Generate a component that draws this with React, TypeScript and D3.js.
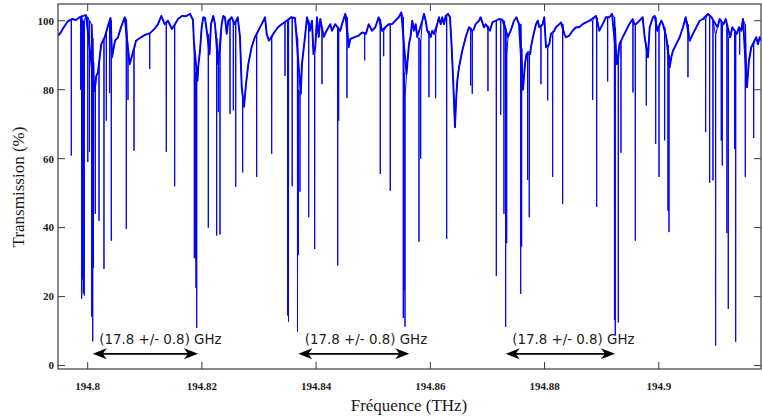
import React from "react";
import * as d3 from "d3";

// upper envelope of the transmission spectrum: frequency (THz) and transmission (%)
const envFreq = [
  194.7948, 194.79532, 194.79585, 194.79655, 194.79725, 194.79795, 194.79865, 194.7997,
  194.80119, 194.80151, 194.8018, 194.8021, 194.80238, 194.80298, 194.80355, 194.80399,
  194.80425, 194.80478, 194.80531, 194.80583, 194.80648, 194.80735, 194.80784, 194.80846,
  194.80916, 194.81003, 194.81091, 194.81178, 194.81231, 194.81289, 194.81348, 194.81406,
  194.81476, 194.81529, 194.81581, 194.81651, 194.81721, 194.81791, 194.81844, 194.81858,
  194.81923, 194.81937, 194.81966, 194.81996, 194.82024, 194.82054, 194.82084, 194.82133,
  194.82159, 194.82199, 194.82229, 194.82282, 194.82299, 194.82346, 194.82374, 194.82404,
  194.82434, 194.82462, 194.82521, 194.82571, 194.82627, 194.82667, 194.82697, 194.82737,
  194.82767, 194.82812, 194.82872, 194.82929, 194.82987, 194.83047, 194.83105, 194.83134,
  194.83175, 194.8325, 194.83332, 194.83397, 194.83484, 194.8356, 194.8363, 194.83731,
  194.83752, 194.8381, 194.8384, 194.83892, 194.83927, 194.83954, 194.83985, 194.84015,
  194.84045, 194.84073, 194.84132, 194.8419, 194.84248, 194.84278, 194.84335, 194.84423,
  194.84453, 194.84511, 194.8457, 194.84598, 194.84686, 194.84745, 194.84803, 194.84873,
  194.8492, 194.84978, 194.85036, 194.85095, 194.85153, 194.85211, 194.85271, 194.85328,
  194.85386, 194.85446, 194.85491, 194.85582, 194.85626, 194.85652, 194.85684, 194.85713,
  194.85743, 194.85771, 194.85859, 194.85889, 194.85918, 194.85946, 194.86006, 194.86034,
  194.86064, 194.86121, 194.86151, 194.86181, 194.86209, 194.86239, 194.86269, 194.86309,
  194.86344, 194.86374, 194.86402, 194.86431, 194.86454, 194.86472, 194.86502, 194.86559,
  194.86619, 194.86677, 194.86724, 194.86755, 194.86794, 194.86852, 194.86881, 194.86939,
  194.86969, 194.87044, 194.87085, 194.87144, 194.87202, 194.8726, 194.87359, 194.87407,
  194.87465, 194.87508, 194.87552, 194.87622, 194.87657, 194.87683, 194.87748, 194.87762,
  194.87797, 194.8785, 194.8788, 194.87908, 194.87967, 194.87995, 194.88025, 194.88083,
  194.88112, 194.8817, 194.882, 194.88258, 194.88288, 194.88345, 194.88375, 194.88433,
  194.88492, 194.8855, 194.88608, 194.88667, 194.88725, 194.88783, 194.88871, 194.889,
  194.88958, 194.89018, 194.89075, 194.89133, 194.89181, 194.89268, 194.89312, 194.89368,
  194.89426, 194.89483, 194.89543, 194.89575, 194.89601, 194.89659, 194.89718, 194.89753,
  194.89811, 194.89841, 194.89898, 194.89928, 194.89974, 194.90044, 194.90074, 194.90131,
  194.90191, 194.90219, 194.90249, 194.90306, 194.90366, 194.90424, 194.90471, 194.90541,
  194.90599, 194.90657, 194.90716, 194.90774, 194.90862, 194.90923, 194.91028, 194.91066,
  194.91136, 194.91171, 194.91252, 194.91287, 194.91369, 194.91404, 194.91445, 194.91474,
  194.91544, 194.91579, 194.9162, 194.91676, 194.91707, 194.91737, 194.91767, 194.91795,
];
const envTrans = [
  95.6, 96.7, 98.2, 99.9, 100.5, 100.2, 101.1, 101.6,
  79.6, 84, 85, 89.4, 93.2, 95.2, 98.5, 100.8,
  89.4, 94.2, 95.2, 98.1, 101, 87.4, 90.3, 94.2,
  95, 95.9, 96.4, 97.8, 99, 101.4, 99, 100,
  97.6, 99, 100.5, 101.4, 101.3, 102, 100.2, 94.4,
  82.6, 87, 91.3, 98, 101, 100.8, 97.1, 90.3,
  99, 101.4, 99, 87.4, 90.3, 99, 101.4, 101,
  96.2, 100, 101, 99, 101, 95.3, 80.8, 75,
  80.8, 87.4, 92.4, 95.3, 97.1, 99, 101, 96.2,
  94.2, 96.2, 98.1, 99, 100, 101, 100.8, 78.8,
  87.4, 96.1, 101, 97.1, 100, 90.3, 92.4, 101,
  95.3, 100.5, 95.3, 97.3, 99, 97.1, 99, 97.1,
  99, 102, 92.3, 94.7, 95.3, 95.7, 96.6, 96.2,
  99, 97.1, 98.1, 101, 97.1, 98.1, 99, 99,
  100, 101, 102.4, 84.5, 93.2, 95.3, 100, 97.1,
  99, 95.3, 100, 102, 100, 97.1, 95.3, 97.1,
  96.2, 99, 101, 99, 101, 99, 101.4, 102,
  101, 92.3, 81.7, 69.1, 77.8, 82.6, 86.5, 91.3,
  95.2, 98.1, 97.1, 97.3, 99, 100, 101, 98.1,
  99, 97.1, 99.5, 100, 100.5, 100.3, 95.3, 97.1,
  100, 101, 99, 80, 87.4, 90.3, 90.3, 92.3,
  95.3, 99, 100, 98.1, 99, 101, 92.3, 93.2,
  96.2, 97.1, 98.1, 99, 99.5, 96.2, 95.2, 95.7,
  97.1, 98.1, 98.1, 99, 99.5, 100, 101, 101.4,
  97.1, 99, 101, 101, 102, 87.4, 93.2, 95.2,
  97.1, 99, 100.5, 99, 99, 100, 101, 95.2,
  89.4, 98.1, 101, 101.4, 97.1, 100, 99, 95.2,
  86.5, 89.4, 91.3, 93.2, 95.2, 98.1, 101, 94.2,
  96.2, 98.1, 100, 100.5, 102, 101, 98.1, 100.5,
  99, 100.5, 95.2, 98.1, 96.2, 98.1, 97.1, 100.5,
  80.7, 88.4, 92.3, 94.2, 95.2, 93.2, 95.2, 94.2,
];

// narrow absorption lines: centre (THz), level on either side (%), minimum (%)
const dipFreq = [
  194.79713, 194.79877, 194.79895, 194.79909, 194.79923, 194.7994, 194.80002, 194.80032,
  194.8007, 194.80088, 194.80102, 194.80133, 194.80198, 194.80285, 194.80326, 194.80385,
  194.80413, 194.80676, 194.80706, 194.80811, 194.81086, 194.81376, 194.81523, 194.81867,
  194.81882, 194.81896, 194.81909, 194.82112, 194.82259, 194.82287, 194.82317, 194.82492,
  194.8255, 194.82592, 194.82714, 194.82959, 194.83222, 194.83455, 194.83502, 194.83516,
  194.83581, 194.83674, 194.83688, 194.83717, 194.8387, 194.83975, 194.84103, 194.84378,
  194.84395, 194.8454, 194.8485, 194.85123, 194.85183, 194.85298, 194.85526, 194.85542,
  194.85556, 194.85801, 194.85831, 194.85976, 194.86093, 194.86286, 194.86706, 194.86734,
  194.87009, 194.87155, 194.87232, 194.87289, 194.87319, 194.87337, 194.87582, 194.87599,
  194.87704, 194.87732, 194.87937, 194.88055, 194.88142, 194.88317, 194.88843, 194.88913,
  194.89105, 194.89224, 194.89238, 194.89291, 194.89338, 194.89548, 194.89589, 194.89781,
  194.89946, 194.90004, 194.90103, 194.90161, 194.90179, 194.90511, 194.90821, 194.90891,
  194.90949, 194.90996, 194.91094, 194.91112, 194.91194, 194.91217, 194.91329, 194.91347,
  194.91417, 194.91515, 194.91662,
];
const dipTop = [
  100.3, 101, 101, 100, 100, 100, 101, 100,
  99, 95, 88, 81, 87, 95, 96.5, 100,
  100, 100.5, 92, 91.5, 96.3, 99.5, 98.8, 90,
  85, 84, 83, 96, 95, 87.4, 90, 100,
  100, 99.5, 78, 95.8, 95, 99.5, 100, 100,
  101, 95, 80, 79, 100, 90, 98, 98,
  97, 101, 96.5, 100.5, 97, 99, 101, 85,
  78, 95, 94, 97, 96, 101.4, 98, 97,
  98.5, 100, 100, 100, 98, 90, 99, 92,
  91, 91, 98, 92, 96, 99, 100, 101,
  101, 101, 98, 88, 94, 100, 99, 93,
  101, 98, 98, 93, 90, 99, 100.5, 101.5,
  100, 96, 100, 99, 99, 95, 97, 96,
  98, 99, 93,
];
const dipMin = [
  60.9, 80, 19.3, 25, 21, 20.3, 59, 62,
  14.2, 7, 28.3, 44, 42, 28, 71, 79,
  36.2, 39.6, 77, 62.3, 86, 62, 52, 31.2,
  31, 22.5, 10.9, 40, 37.7, 73.5, 38, 73,
  74, 51.8, 56, 54.7, 61.4, 84, 14.5, 12.7,
  52, 9.9, 32, 50.4, 43, 33.8, 81.6, 29,
  71, 77.6, 88.5, 55.6, 89.7, 50.7, 13.8, 22,
  11.3, 35.9, 60, 77.8, 77.5, 36.7, 81.2, 78.8,
  79.6, 26, 72.7, 44, 11.2, 35.5, 20.8, 34.5,
  53.8, 43, 81.6, 76.9, 54.7, 46.9, 77, 46,
  82.4, 13.2, 8.9, 12.5, 61.7, 79.2, 36.2, 75.4,
  64.3, 54.7, 65.3, 44.9, 38.7, 83.6, 67.7, 53,
  53.7, 5.8, 65.2, 58, 38.4, 16.4, 62.8, 6.9,
  90.2, 54.7, 66,
];

const xTicks = [194.8, 194.82, 194.84, 194.86, 194.88, 194.9];
const xTickLabels = ["194.8", "194.82", "194.84", "194.86", "194.88", "194.9"];
const yTicks = [0, 20, 40, 60, 80, 100];

// spacing annotations (THz), drawn at a fixed transmission level
const spanStart = [194.80088, 194.83688, 194.87319];
const spanEnd = [194.81931, 194.85631, 194.89233];
const spanLabel = "(17.8 +/- 0.8) GHz";
const spanLevel = 3.4;

export default function App() {
  const width = 762;
  const height = 419;
  const left = 58;
  const right = 761;
  const top = 4;
  const bottom = 369;
  const tick = 7;

  const x = d3.scaleLinear().domain([194.7948, 194.9179]).range([left, right]);
  const y = d3.scaleLinear().domain([-1, 104.85]).range([bottom, top]);

  // merge envelope and absorption lines into one trace
  const half = 0.00003;
  const envPts: [number, number][] = envFreq.map((f, i) => [f, envTrans[i]]);
  const pts: [number, number][] = envPts.slice();
  dipFreq.forEach((f, i) => {
    pts.push([f - half, dipTop[i]], [f, dipMin[i]], [f + half, dipTop[i]]);
  });
  pts.sort((a, b) => a[0] - b[0]);

  const line = d3
    .line<[number, number]>()
    .x((d) => x(d[0]))
    .y((d) => y(d[1]));

  const serif = "Liberation Serif, Times New Roman, serif";
  const sans = "DejaVu Sans, Verdana, sans-serif";
  const axisColor = "#3a3a3a";
  const serifText = { fontFamily: serif };

  const arrowHead = (tipX: number, yy: number, dir: number) => {
    const l = 14;
    const h = 5.5;
    const n = 10;
    return `M${tipX},${yy} L${tipX + dir * l},${yy - h} L${tipX + dir * n},${yy} L${tipX + dir * l},${yy + h} Z`;
  };

  return (
    <svg
      width={width}
      height={height}
      style={{ position: "absolute", left: 0, top: 0, background: "#fff" }}
    >
      <defs>
        <clipPath id="plot-area">
          <rect x={left} y={top} width={right - left} height={bottom - top} />
        </clipPath>
      </defs>
      <rect x={0} y={0} width={width} height={height} fill="#fff" />
      <g clipPath="url(#plot-area)">
        {/* noisy baseline reads thicker than the narrow lines */}
        <path
          d={line(envPts) || ""}
          fill="none"
          stroke="#0000ff"
          strokeWidth={1.9}
          strokeLinejoin="round"
        />
        <path
          d={line(pts) || ""}
          fill="none"
          stroke="#0000ff"
          strokeWidth={1}
          strokeLinejoin="round"
        />
      </g>
      {/* frame */}
      <rect
        x={left}
        y={top}
        width={right - left}
        height={bottom - top}
        fill="none"
        stroke={axisColor}
        strokeWidth={1.2}
      />
      {/* x ticks, bottom and top, pointing inward */}
      {xTicks.map((t, i) => (
        <g key={"x" + t}>
          <line x1={x(t)} x2={x(t)} y1={bottom} y2={bottom - tick} stroke={axisColor} />
          <line x1={x(t)} x2={x(t)} y1={top} y2={top + tick} stroke={axisColor} />
          <text
            x={x(t)}
            y={389.5}
            textAnchor="middle"
            style={serifText}
            fontWeight="bold"
            fontSize={11}
            fill="#1a1a1a"
          >
            {xTickLabels[i]}
          </text>
        </g>
      ))}
      {/* y ticks, left and right */}
      {yTicks.map((t) => (
        <g key={"y" + t}>
          <line x1={left} x2={left + tick} y1={y(t)} y2={y(t)} stroke={axisColor} />
          <line x1={right} x2={right - tick} y1={y(t)} y2={y(t)} stroke={axisColor} />
          <text
            x={54}
            y={y(t)}
            dy="0.35em"
            textAnchor="end"
            style={serifText}
            fontWeight="bold"
            fontSize={11}
            fill="#1a1a1a"
          >
            {t}
          </text>
        </g>
      ))}
      <text
        transform="translate(23.5,187) rotate(-90)"
        textAnchor="middle"
        style={serifText}
        fontSize={17}
        fill="#1a1a1a"
      >
        Transmission (%)
      </text>
      <text
        x={409}
        y={410.5}
        textAnchor="middle"
        style={serifText}
        fontSize={17}
        fill="#1a1a1a"
      >
        Fréquence (THz)
      </text>
      {/* spacing arrows */}
      {spanStart.map((s, i) => {
        const x0 = x(s);
        const x1 = x(spanEnd[i]);
        const yy = y(spanLevel);
        return (
          <g key={"span" + i}>
            <line x1={x0 + 8} x2={x1 - 8} y1={yy} y2={yy} stroke="#000" strokeWidth={1.6} />
            <path d={arrowHead(x0, yy, 1)} fill="#000" />
            <path d={arrowHead(x1, yy, -1)} fill="#000" />
            <text
              x={x0 + 6.5}
              y={yy - 10}
              style={{ fontFamily: sans }}
              fontSize={13.4}
              fill="#222"
            >
              {spanLabel}
            </text>
          </g>
        );
      })}
    </svg>
  );
}
